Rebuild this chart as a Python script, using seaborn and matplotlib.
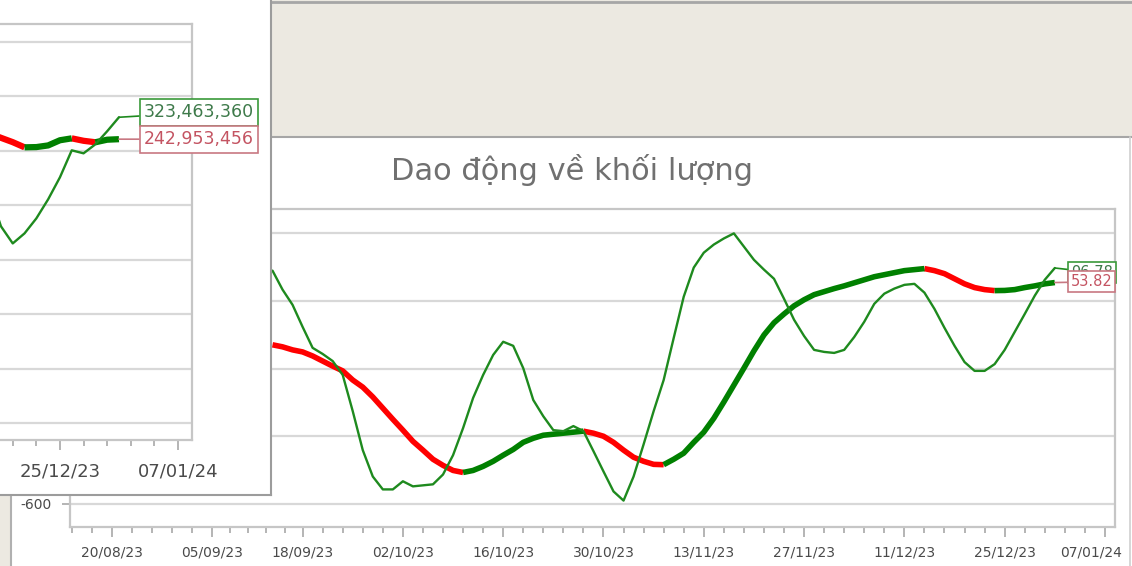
import numpy as np
import pandas as pd
import seaborn as sns
import matplotlib.pyplot as plt
from matplotlib.patches import Rectangle
from matplotlib.lines import Line2D
from matplotlib.transforms import ScaledTranslation

sns.set_style("white")
plt.rcParams['font.family'] = ['DejaVu Sans']
plt.rcParams['axes.unicode_minus'] = False

W, H = 1132, 566

title = "Dao động về khối lượng"
tick_labels = ['20/08/23', '05/09/23', '18/09/23', '02/10/23', '16/10/23', '30/10/23',
               '13/11/23', '27/11/23', '11/12/23', '25/12/23', '07/01/24']
tick_idx = [0, 10, 19, 29, 39, 49, 59, 69, 79, 89, 99]   # trading-day index
y_grid = [-600, -400, -200, 0, 200]

# main chart: volume oscillator (thin) and its average (thick)
day_idx = list(range(16, 95))
volume_osc = [89, 33, -12, -77, -139, -157, -178, -219, -326, -441,
              -519, -557, -557, -533, -548, -545, -542, -513, -456, -376,
              -287, -219, -160, -121, -133, -199, -293, -341, -382, -385,
              -370, -385, -444, -504, -563, -590, -519, -424, -326, -234,
              -110, 12, 98, 142, 166, 184, 199, 160, 121, 92,
              65, 6, -56, -104, -145, -151, -154, -145, -107, -62,
              -9, 21, 36, 47, 50, 24, -24, -80, -133, -181,
              -207, -207, -187, -145, -92, -39, 15, 62, 96.78]
volume_ma = [-130, -136, -145, -151, -163, -178, -193, -207, -234, -255,
             -284, -317, -350, -382, -415, -441, -468, -486, -501, -507,
             -501, -489, -474, -456, -439, -418, -406, -397, -394, -391,
             -388, -385, -391, -400, -418, -441, -462, -474, -483, -484,
             -468, -450, -418, -388, -347, -299, -249, -199, -148, -101,
             -65, -39, -15, 3, 18, 27, 36, 44, 53, 62,
             71, 77, 83, 89, 92, 95, 89, 80, 65, 50,
             39, 33, 30, 30.5, 33, 39, 44, 50, 53.82]

# window behind: raw volume (millions)
left_idx = list(range(83, 95))
left_volume = [55, -77, -140, -103, -48, 22, 103, 202, 191, 224, 272, 323.46336]
left_ma = [265, 248, 232, 213, 213.9, 220, 239, 246, 237, 231.6, 241, 242.953456]
left_grid = [-800, -600, -400, -200, 0, 200, 400, 600]

GREEN = "#008000"
RED = "#FF0000"
THIN = "#1E8A1E"
GRID = "#D8D8D8"
FRAME = "#C6C6C6"
TICK = "#A8A8A8"
BEIGE = "#ECE9E1"
TXT = "#4A4A4A"


def box(x0, y0, x1, y1):
    return [x0 / W, 1 - y1 / H, (x1 - x0) / W, (y1 - y0) / H]


def runs(x, y):
    # split the average into rising / falling stretches
    rows, run, prev = [], 0, None
    for k in range(len(x) - 1):
        d = 'up' if y[k + 1] >= y[k] else 'down'
        if d != prev:
            run += 1
            prev = d
            rows.append((run, d, x[k], y[k]))
        rows.append((run, d, x[k + 1], y[k + 1]))
    return pd.DataFrame(rows, columns=['run', 'dir', 'x', 'y'])


def minors(majors, lo, hi):
    out = []
    for a, b in zip(majors[:-1], majors[1:]):
        out += list(np.linspace(a, b, 6)[1:-1])
    step = (majors[1] - majors[0]) / 5
    out += [majors[0] - step * k for k in (1, 2, 3)]
    out += [majors[-1] + step * k for k in (1, 2, 3)]
    return [m for m in out if lo <= m <= hi]


def draw_chart(ax, x, osc, ma, xlim, ylim, grid, lw_thick, labelsize, pad):
    ax.set_facecolor('white')
    df = runs(x, ma)
    sns.lineplot(data=df, x='x', y='y', hue='dir', units='run', estimator=None,
                 sort=False, palette={'up': GREEN, 'down': RED}, lw=lw_thick,
                 legend=False, ax=ax, solid_capstyle='butt', solid_joinstyle='round', zorder=3)
    sns.lineplot(x=x, y=osc, estimator=None, sort=False, color=THIN, lw=1.7, ax=ax, zorder=4)
    ax.set_yticks(grid)
    ax.grid(axis='y', color=GRID, lw=1.6)
    ax.set_xticks(tick_idx)
    ax.set_xticklabels(tick_labels)
    ax.set_xticks(minors(tick_idx, *xlim), minor=True)
    ax.set_xlim(*xlim)
    ax.set_ylim(*ylim)
    ax.set_xlabel('')
    ax.set_ylabel('')
    for s in ax.spines.values():
        s.set_color(FRAME)
        s.set_linewidth(1.6)
    ax.tick_params(axis='x', which='major', bottom=True, length=7, width=1.2, color=TICK,
                   labelsize=labelsize, labelcolor=TXT, pad=pad)
    ax.tick_params(axis='x', which='minor', bottom=True, length=4, width=1.2, color=TICK)
    ax.tick_params(axis='y', left=True, length=6, width=1.2, color=TICK,
                   labelsize=10, labelcolor=TXT, pad=7)


fig = plt.figure(figsize=(W / 100, H / 100), dpi=100)
fig.patch.set_facecolor('white')

# main chart
ax = fig.add_axes(box(70, 209, 1115, 527))
draw_chart(ax, day_idx, volume_osc, volume_ma, (-4.19, 100), (-668, 271), y_grid, 4.0, 10, 6)
last = ax.get_xticklabels()[-1]
last.set_transform(last.get_transform() + ScaledTranslation(-0.14, 0, fig.dpi_scale_trans))

ax.annotate(f"{volume_osc[-1]:.2f}", xy=(day_idx[-1], volume_osc[-1]), xytext=(11.5, -3),
            textcoords='offset points', ha='left', va='center', fontsize=10.5, color='#3E7A4A',
            bbox=dict(boxstyle='square,pad=0.2', fc='white', ec='#3A9A3A', lw=1.2),
            arrowprops=dict(arrowstyle='-', color=THIN, lw=1.2, shrinkA=0, shrinkB=0),
            annotation_clip=False, zorder=6)
ax.annotate(f"{volume_ma[-1]:.2f}", xy=(day_idx[-1], volume_ma[-1]), xytext=(11.5, 0.5),
            textcoords='offset points', ha='left', va='center', fontsize=10.5, color='#C45462',
            bbox=dict(boxstyle='square,pad=0.2', fc='white', ec='#C87882', lw=1.2),
            arrowprops=dict(arrowstyle='-', color='#C87882', lw=1.2, shrinkA=0, shrinkB=0),
            annotation_clip=False, zorder=7)

fig.text(572 / W, 1 - 170 / H, title, fontsize=22, color='#707070', ha='center', va='center')

# window chrome
fig.add_artist(Rectangle((270 / W, 1 - 137 / H), 1 - 270 / W, 137 / H, transform=fig.transFigure,
                         fc=BEIGE, ec='none', zorder=1))
fig.add_artist(Line2D([270 / W, 1], [1 - 137 / H] * 2, transform=fig.transFigure, color='#A6A6A6', lw=1.5, zorder=2))
fig.add_artist(Line2D([270 / W, 1], [1 - 2 / H] * 2, transform=fig.transFigure, color='#A6A6A6', lw=2, zorder=2))
fig.add_artist(Rectangle((0, 0), 11 / W, 71 / H, transform=fig.transFigure, fc=BEIGE, ec='none', zorder=1))
fig.add_artist(Line2D([11 / W] * 2, [0, 71 / H], transform=fig.transFigure, color='#B0B0B0', lw=1.5, zorder=2))
fig.add_artist(Line2D([1130 / W] * 2, [0, 1 - 137 / H], transform=fig.transFigure, color='#CFCFCF', lw=1.2, zorder=2))

# overlapping window on the left
bg = fig.add_axes(box(0, 0, 271, 495), zorder=5)
bg.set_facecolor('white')
bg.set_xticks([])
bg.set_yticks([])
for side, s in bg.spines.items():
    s.set_visible(side in ('right', 'bottom'))
    s.set_color('#9C9C9C')
    s.set_linewidth(1.5)

lax = fig.add_axes(box(0, 24, 192, 440), zorder=6)
draw_chart(lax, left_idx, left_volume, left_ma, (83.92, 100.19), (-862, 666), left_grid, 4.5, 13, 9)
lax.spines['left'].set_visible(False)
lax.tick_params(axis='y', left=False, labelleft=False)

lax.annotate(f"{left_volume[-1] * 1e6:,.0f}", xy=(left_idx[-1], left_volume[-1]), xytext=(18, 3.5),
             textcoords='offset points', ha='left', va='center', fontsize=12.5, color='#3E7A4A',
             bbox=dict(boxstyle='square,pad=0.25', fc='white', ec='#3A9A3A', lw=1.2),
             arrowprops=dict(arrowstyle='-', color=THIN, lw=1.2, shrinkA=0, shrinkB=0),
             annotation_clip=False, zorder=6)
lax.annotate(f"{left_ma[-1] * 1e6:,.0f}", xy=(left_idx[-1], left_ma[-1]), xytext=(18, 0),
             textcoords='offset points', ha='left', va='center', fontsize=12.5, color='#C45462',
             bbox=dict(boxstyle='square,pad=0.25', fc='white', ec='#C87882', lw=1.2),
             arrowprops=dict(arrowstyle='-', color='#C87882', lw=1.2, shrinkA=0, shrinkB=0),
             annotation_clip=False, zorder=7)

fig.savefig('out.png', dpi=100)
